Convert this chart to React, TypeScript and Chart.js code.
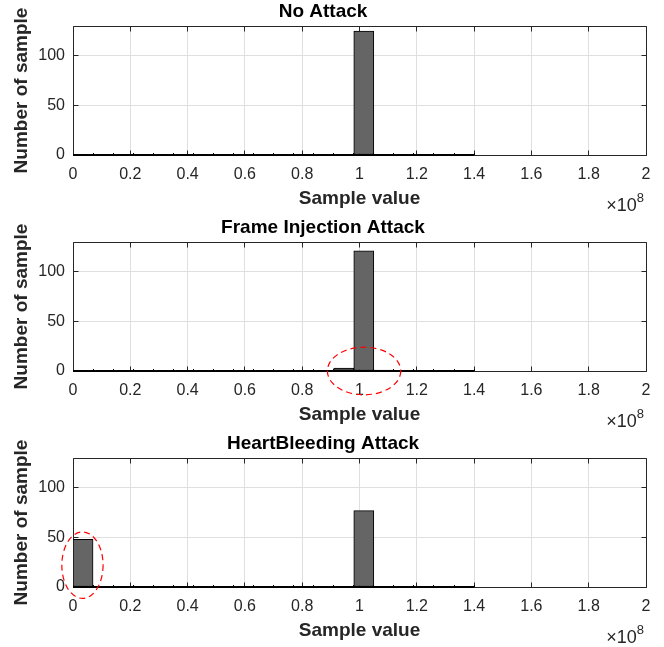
import React, { useEffect, useRef } from "react";
import { Chart, registerables } from "chart.js";

Chart.register(...registerables);

// ---- data (histogram bins, bin width 7e6) ----
const binCenters = [
  3.5e6, 10.5e6, 17.5e6, 24.5e6, 31.5e6, 38.5e6, 45.5e6, 52.5e6, 59.5e6, 66.5e6,
  73.5e6, 80.5e6, 87.5e6, 94.5e6, 101.5e6, 108.5e6, 115.5e6, 122.5e6, 129.5e6, 136.5e6,
];
const countsNoAttack = [0, 0, 0, 0, 0, 0, 0, 0, 0, 0, 0, 0, 0, 0, 125, 0, 0, 0, 0, 0];
const countsFrameInjection = [0, 0, 0, 0, 0, 0, 0, 0, 0, 0, 0, 0, 0, 3, 121, 1, 0, 0, 0, 0];
const countsHeartBleeding = [48, 0, 0, 0, 0, 0, 0, 0, 0, 0, 0, 0, 0, 0, 77, 0, 0, 0, 0, 0];

const panelTitles = ["No Attack", "Frame Injection Attack", "HeartBleeding Attack"];
const xAxisTitle = "Sample value";
const yAxisTitle = "Number of sample";
const xMin = 0;
const xMax = 2e8;
const xStep = 2e7;
const yMin = 0;
const yMax = 130;
const yStep = 50;
const exponentBase = "\u00d710";
const exponentPower = "8";

// red dashed ellipses (data units: center x/y, radius x/y)
const ellipsesNoAttack: { cx: number; cy: number; rx: number; ry: number }[] = [];
const ellipsesFrameInjection = [{ cx: 1.016e8, cy: 0, rx: 0.128e8, ry: 24 }];
const ellipsesHeartBleeding = [{ cx: 0.033e8, cy: 22, rx: 0.072e8, ry: 33.5 }];

const FONT = "'Liberation Sans', Arial, Helvetica, sans-serif";
const AXIS_COLOR = "#262626";
const GRID_COLOR = "#dfdfdf";

const align = (p: number) => Math.round(p - 0.5) + 0.5;

const axesDecor = {
  id: "axesDecor",
  beforeDatasetsDraw(chart: any) {
    const { ctx, chartArea, scales } = chart;
    const { left, right, top, bottom } = chartArea;
    const x = scales.x;
    const y = scales.y;
    const L = align(left), R = align(right), T = align(top), B = align(bottom);
    ctx.save();
    ctx.strokeStyle = AXIS_COLOR;
    ctx.lineWidth = 1;
    ctx.setLineDash([]);
    ctx.beginPath();
    ctx.moveTo(L, T); ctx.lineTo(R, T); ctx.lineTo(R, B); ctx.lineTo(L, B); ctx.closePath();
    const tl = 5;
    x.ticks.forEach((t: any) => {
      const px = align(x.getPixelForValue(t.value));
      ctx.moveTo(px, B); ctx.lineTo(px, B - tl);
      ctx.moveTo(px, T); ctx.lineTo(px, T + tl);
    });
    y.ticks.forEach((t: any) => {
      const py = align(y.getPixelForValue(t.value));
      ctx.moveTo(L, py); ctx.lineTo(L + tl, py);
      ctx.moveTo(R, py); ctx.lineTo(R - tl, py);
    });
    ctx.stroke();
    ctx.restore();
  },
  afterDatasetsDraw(chart: any) {
    // edges of the empty histogram bins along the baseline
    const { ctx, scales } = chart;
    const x = scales.x;
    const y = scales.y;
    const w = binCenters[1] - binCenters[0];
    const x0 = x.getPixelForValue(binCenters[0] - w / 2);
    const x1 = x.getPixelForValue(binCenters[binCenters.length - 1] + w / 2);
    const py = Math.round(y.getPixelForValue(0));
    ctx.save();
    ctx.strokeStyle = "#000000";
    ctx.lineWidth = 2;
    ctx.beginPath();
    ctx.moveTo(x0, py);
    ctx.lineTo(x1, py);
    ctx.stroke();
    ctx.lineWidth = 1;
    ctx.beginPath();
    binCenters.forEach((c) => {
      const ex = align(x.getPixelForValue(c + w / 2));
      ctx.moveTo(ex, py - 2);
      ctx.lineTo(ex, py);
    });
    ctx.stroke();
    ctx.restore();
  },
  afterDraw(chart: any) {
    const { ctx, chartArea } = chart;
    ctx.save();
    ctx.fillStyle = AXIS_COLOR;
    ctx.textBaseline = "alphabetic";
    ctx.font = `18px ${FONT}`;
    const wBase = ctx.measureText(exponentBase).width;
    ctx.font = `13px ${FONT}`;
    const wPow = ctx.measureText(exponentPower).width;
    const endX = chartArea.right - 2;
    const baseY = chartArea.bottom + 56;
    ctx.font = `18px ${FONT}`;
    ctx.textAlign = "left";
    ctx.fillText(exponentBase, endX - wPow - wBase, baseY);
    ctx.font = `13px ${FONT}`;
    ctx.fillText(exponentPower, endX - wPow, baseY - 9);
    ctx.restore();
  },
};

const ellipseMarks = {
  id: "ellipseMarks",
  afterDraw(chart: any, _args: any, opts: any) {
    const list = (opts && opts.ellipses) || [];
    if (!list.length) return;
    const { ctx, scales } = chart;
    const x = scales.x;
    const y = scales.y;
    ctx.save();
    ctx.strokeStyle = "#ff0000";
    ctx.lineWidth = 1.2;
    ctx.setLineDash([6, 4]);
    list.forEach((e: any) => {
      const cx = x.getPixelForValue(e.cx);
      const cy = y.getPixelForValue(e.cy);
      const rx = Math.abs(x.getPixelForValue(e.cx + e.rx) - cx);
      const ry = Math.abs(y.getPixelForValue(e.cy + e.ry) - cy);
      ctx.beginPath();
      ctx.ellipse(cx, cy, rx, ry, 0, 0, Math.PI * 2);
      ctx.stroke();
    });
    ctx.restore();
  },
};

function HistPanel({ title, counts, ellipses }: { title: string; counts: number[]; ellipses: any[] }) {
  const ref = useRef<HTMLCanvasElement | null>(null);
  useEffect(() => {
    if (!ref.current) return;
    const chart = new Chart(ref.current, {
      type: "bar",
      data: {
        datasets: [
          {
            data: binCenters.map((xv, i) => ({ x: xv, y: counts[i] })),
            backgroundColor: "#656565",
            borderColor: "#000000",
            borderWidth: 1,
            borderSkipped: false,
            barPercentage: 1,
            categoryPercentage: 1,
            grouped: false,
          } as any,
        ],
      },
      plugins: [axesDecor, ellipseMarks],
      options: {
        responsive: false,
        animation: false,
        events: [],
        layout: { padding: { left: 0, right: 18, top: 0, bottom: 0 } },
        plugins: {
          legend: { display: false },
          tooltip: { enabled: false },
          title: {
            display: true,
            text: title,
            color: "#000000",
            font: { family: FONT, size: 19, weight: "bold" },
            padding: { top: 0.6, bottom: 2.6 },
          },
          ellipseMarks: { ellipses },
        } as any,
        scales: {
          x: {
            type: "linear",
            min: xMin,
            max: xMax,
            offset: false,
            grid: { offset: false, color: GRID_COLOR, drawTicks: false, lineWidth: 1 },
            border: { display: false },
            ticks: {
              stepSize: xStep,
              includeBounds: false,
              autoSkip: false,
              maxRotation: 0,
              padding: 10,
              color: AXIS_COLOR,
              font: { family: FONT, size: 16 },
              callback: (v: any) => String(Number((Number(v) / 1e8).toFixed(1))),
            },
            title: {
              display: true,
              text: xAxisTitle,
              color: AXIS_COLOR,
              font: { family: FONT, size: 19, weight: "bold" },
              padding: { top: 0, bottom: 6 },
            },
            afterFit: (s: any) => {
              s.height = 61;
            },
          } as any,
          y: {
            type: "linear",
            min: yMin,
            max: yMax,
            grid: { color: GRID_COLOR, drawTicks: false, lineWidth: 1 },
            border: { display: false },
            ticks: {
              stepSize: yStep,
              includeBounds: false,
              padding: 8,
              color: AXIS_COLOR,
              font: { family: FONT, size: 16 },
            },
            title: {
              display: true,
              text: yAxisTitle,
              color: AXIS_COLOR,
              font: { family: FONT, size: 19, weight: "bold" },
              padding: { top: 10.5, bottom: 0 },
            },
            afterFit: (s: any) => {
              s.width = 73;
            },
          } as any,
        },
      },
    });
    return () => chart.destroy();
  }, [title, counts, ellipses]);
  return <canvas ref={ref} width={664} height={216} style={{ display: "block" }} />;
}

export default function App() {
  const panels = [
    { title: panelTitles[0], counts: countsNoAttack, ellipses: ellipsesNoAttack },
    { title: panelTitles[1], counts: countsFrameInjection, ellipses: ellipsesFrameInjection },
    { title: panelTitles[2], counts: countsHeartBleeding, ellipses: ellipsesHeartBleeding },
  ];
  return (
    <div style={{ position: "absolute", left: 0, top: 0, width: 664, height: 647, background: "#fff", overflow: "hidden" }}>
      {panels.map((p, i) => (
        <div key={i} style={{ position: "absolute", left: 0, top: i * 216, width: 664, height: 216 }}>
          <HistPanel title={p.title} counts={p.counts} ellipses={p.ellipses} />
        </div>
      ))}
    </div>
  );
}
